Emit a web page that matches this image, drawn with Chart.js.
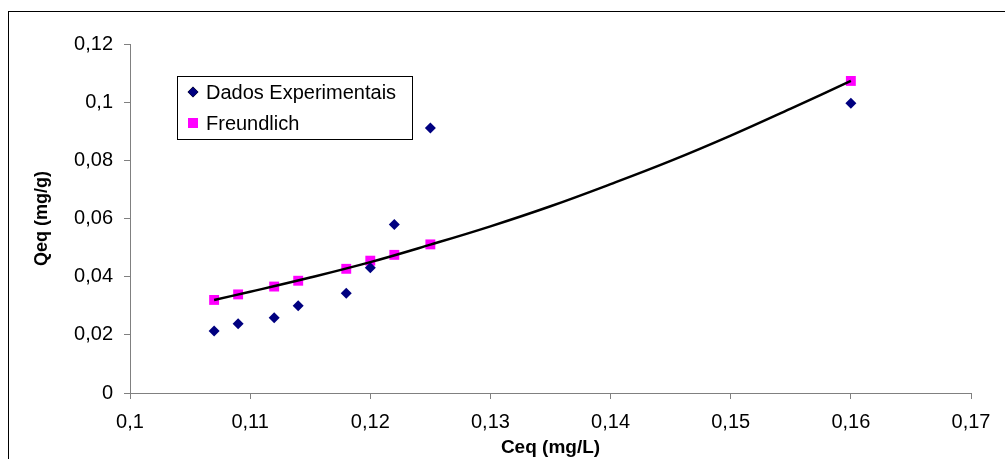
<!DOCTYPE html>
<html>
<head>
<meta charset="utf-8">
<script src="https://cdn.jsdelivr.net/npm/chart.js@4.4.1/dist/chart.umd.min.js"></script>
<style>
  body { margin: 0; background: #fff; overflow: hidden; }
  #frame { position: absolute; left: 8px; top: 11px; width: 1100px; height: 500px; border: 1px solid #000; }
  #garbage { position: absolute; left: 0; top: 0; }
</style>
</head>
<body>
<div id="frame"></div>
<canvas id="isotherm" width="1005" height="459" style="position:absolute;left:0;top:0"></canvas>
<script>
// Ceq values (mg/L) for the measured points
let ceq = [0.107, 0.109, 0.112, 0.114, 0.118, 0.120, 0.122, 0.125, 0.160];
// Qeq measured (mg/g)
let qeqExp = [0.0213, 0.0238, 0.0259, 0.0300, 0.0343, 0.0431, 0.0579, 0.0911, 0.0996];
// Qeq Freundlich model (mg/g)
let qeqFreundlich = [0.0320, 0.0339, 0.0366, 0.0386, 0.0427, 0.0455, 0.0475, 0.0511, 0.1073];
// trend line
let trendX = [0.107, 0.110, 0.115, 0.120, 0.125, 0.130, 0.135, 0.140, 0.145, 0.150, 0.155, 0.160];
let trendY = [0.0320, 0.0348, 0.0397, 0.0450, 0.0510, 0.0573, 0.0642, 0.0718, 0.0798, 0.0885, 0.0978, 0.1073];

let seriesNames = ['Dados Experimentais', 'Freundlich'];

function toPoints(xs, ys) {
  return xs.map((x, i) => ({ x: x, y: ys[i] }));
}

function commaLabel(v) {
  return String(Math.round(v * 100) / 100).replace('.', ',');
}

const fontFamily = '"Liberation Sans", Arial, sans-serif';

// legend drawn inside the plot, boxed like the original
const boxLegend = {
  id: 'boxLegend',
  afterDraw(chart) {
    const c = chart.ctx;
    c.save();
    c.strokeStyle = '#000';
    c.lineWidth = 1;
    c.strokeRect(177.5, 76.5, 235, 63);
    const rows = [1, 2];
    const ys = [92, 123];
    rows.forEach((dsIndex, i) => {
      const ds = chart.data.datasets[dsIndex];
      Chart.helpers.drawPoint(c, {
        pointStyle: ds.pointStyle,
        radius: ds.pointRadius,
        borderWidth: 0
      }, 193, ys[i]);
      c.fillStyle = ds.backgroundColor;
      c.beginPath();
      if (ds.pointStyle === 'rectRot') {
        c.moveTo(193 - 5, ys[i]); c.lineTo(193, ys[i] - 5); c.lineTo(193 + 5, ys[i]); c.lineTo(193, ys[i] + 5);
      } else {
        c.rect(188, ys[i] - 5, 10, 10);
      }
      c.fill();
      c.fillStyle = '#000';
      c.font = '20px ' + fontFamily;
      c.textBaseline = 'middle';
      c.fillText(ds.label, 206, ys[i] + 1);
    });
    c.restore();
  }
};

let ctx = document.getElementById('isotherm').getContext('2d');

let isothermChart = new Chart(ctx, {
  type: 'scatter',
  data: {
    datasets: [
      {
        label: 'trend',
        data: toPoints(trendX, trendY),
        showLine: true,
        borderColor: '#000',
        borderWidth: 2.5,
        pointRadius: 0,
        tension: 0.4,
        fill: false
      },
      {
        label: seriesNames[0],
        data: toPoints(ceq, qeqExp),
        pointStyle: 'rectRot',
        pointRadius: 5.5,
        backgroundColor: '#000080',
        borderColor: '#000080',
        borderWidth: 0
      },
      {
        label: seriesNames[1],
        data: toPoints(ceq, qeqFreundlich),
        pointStyle: 'rect',
        pointRadius: 7,
        backgroundColor: '#FF00FF',
        borderColor: '#FF00FF',
        borderWidth: 0
      }
    ]
  },
  options: {
    responsive: false,
    animation: false,
    layout: { padding: { left: 0, top: 44, right: 34, bottom: 0 } },
    plugins: {
      legend: { display: false },
      tooltip: { enabled: false }
    },
    scales: {
      x: {
        type: 'linear',
        min: 0.1,
        max: 0.17,
        afterFit: s => { s.height = 66; },
        ticks: {
          stepSize: 0.01,
          padding: 11,
          color: '#000',
          font: { family: fontFamily, size: 20 },
          callback: v => commaLabel(v)
        },
        grid: { drawOnChartArea: false, drawTicks: true, tickLength: 6, color: '#808080' },
        border: { display: true, color: '#808080', width: 1 },
        title: {
          display: true,
          text: 'Ceq (mg/L)',
          color: '#000',
          padding: { top: 0, bottom: 0 },
          font: { family: fontFamily, size: 19, weight: 'bold' }
        }
      },
      y: {
        min: 0,
        max: 0.12,
        afterFit: s => { s.width = 130; },
        ticks: {
          stepSize: 0.02,
          padding: 11,
          color: '#000',
          font: { family: fontFamily, size: 20 },
          callback: v => commaLabel(v)
        },
        grid: { drawOnChartArea: false, drawTicks: true, tickLength: 6, color: '#808080' },
        border: { display: true, color: '#808080', width: 1 },
        title: {
          display: true,
          text: 'Qeq (mg/g)',
          color: '#000',
          padding: { top: 31, bottom: 0 },
          font: { family: fontFamily, size: 18, weight: 'bold' }
        }
      }
    }
  },
  plugins: [boxLegend]
});
</script>
</body>
</html>
